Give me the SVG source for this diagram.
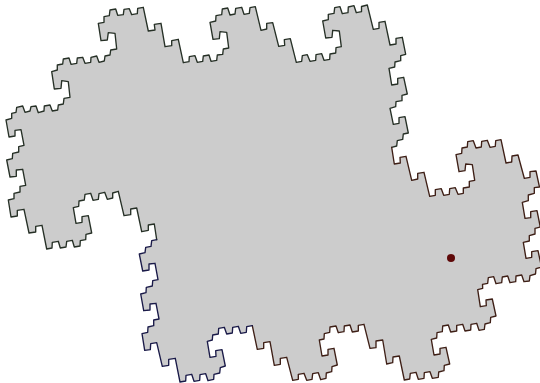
<svg xmlns="http://www.w3.org/2000/svg" width="540" height="383" viewBox="0 0 540 383">
<style>
.line{fill:none;stroke-width:1.35;stroke-linejoin:round;stroke-linecap:round}
</style>
<rect width="540" height="383" fill="#ffffff"/>
<path fill="#cccccc" d="M156.7 239.7L154.3 224 148.3 225 148.3 230.3 141.7 231.7 136.7 208 130.7 209 130.7 214.7 124 215.7 118.3 191.3 112.7 193 112.7 198 107.3 199.3 104.7 192.3 99 193.7 98.3 199.3 93 200.3 90.7 193.3 85 194.3 84.3 200 79 201 78.7 206.3 73.3 207.7 76 223.3 82 222.3 82 216.7 88.3 215.7 91.7 233 86 234.3 85.7 239.7 80.3 240.7 80 246 74.3 247 72.3 240.3 66.7 241.3 66 247 60.3 248 58.3 241.3 52.3 242.3 52 248 46.7 249 42 225.3 35.7 226.3 35.7 232 29 233 24 209.3 17.3 210.3 17.3 216 11 217 8.3 200 14 198.7 14 193.3 20 192 20 186.3 25.7 185.3 22.7 169.3 16.3 170 16.3 176.3 10 177 6.7 160 12.3 158.7 12.7 153.3 18.7 152 18.7 146.7 24 145.3 21 129.7 15 130.3 15 136 9 137 6 120 11.7 118.3 11.7 113.3 16 112.3 16.7 107.3 22.7 106 25 112.3 30 111 31 106.7 36 106 38.3 112.7 44 111 44.3 106 50 105 52.3 111 57.7 110 58.3 105 63.3 104 64 98.3 70 97.3 68.3 81.7 61.7 80.7 61 88.3 54.3 89 51.7 71.7 57.3 70 57.3 65 62.7 64 63.3 59 69 58 71 64.3 76.7 63.3 77.3 58 82.7 57.3 85 63.3 90.7 62.3 91 57.3 96.7 56 99 62.3 104.3 61 105 56 110 55 110.7 50 116.7 49 115 33.3 108.3 32.7 107.3 40 101 40.7 98.3 23.3 104 22.3 104 16.7 109.3 15.7 110 10 115.7 9 117.7 15.3 123.3 14.7 124 9.3 129.3 8.7 131.7 14.7 137.3 13.7 137.7 8.3 143.3 7.3 148.3 31 155 30 154.3 24.3 161 23.3 165 46.7 171.7 45.7 171.7 40.7 178.3 39.3 183.3 62.7 189 61.7 189.3 56.7 195 55.7 197.3 62.3 202.7 61.3 203.3 56 209 55 211 61.3 216.7 60.3 217.3 55 222.7 54.3 223.3 49 228.7 48 226.7 32.3 220 31.7 219.3 38.7 213 39.3 210 22.3 215.7 21 216 15.7 221.7 14.7 222.3 9 227.7 8 230 15 235 14 235.7 8.3 241.7 7.3 244 14.3 249.3 13.3 250 7.7 255.3 6.7 261 30.3 266.7 29 266.7 23.3 272.7 22.7 278.7 46.3 284.7 45.3 284.3 39.7 290.3 38.7 296.3 62.3 301.7 61.3 302.3 55.7 307.3 54.7 310 61.3 315.7 60.3 316 54.7 321.7 53.7 324 60.3 329.7 59.3 330 54 335.7 53 336 47.7 341.3 46.7 339.3 31 332.7 30.3 332 37.3 325.7 38 322.7 21 328.3 19.7 328.3 14.3 334 13.3 334.7 7.7 340 6.7 342.3 13.7 348 12.7 348.3 7 354 5.7 356.3 12.7 361.5 11.7 361.5 6.5 367.3 5 373.3 29.3 379 28.3 379 22.3 385 21.3 390 45 396 44 396 38.3 402.3 37.3 405.7 54.3 400.7 55.7 400.7 60.7 395 62 394.7 67 389 68.3 391.7 85 397.7 84 397.7 78.3 403.7 77.3 407.3 94 402 95.3 402 100.7 396 101.7 395.7 106.7 390 108.3 393.3 124.3 399 123.3 399 117.7 405 116.7 408.3 133 403.3 134 402.7 139.3 397.3 140.7 396.7 146 391.7 147.3 394.3 164 400.3 163 400 157.3 406 156.3 411.7 180.3 417.7 179 417.7 173.3 424 172.3 429.7 196.3 435.3 195.3 435.3 189.7 441.3 188.7 443.7 195.3 449.3 194.3 449.7 188.7 455.3 187.7 458 194.3 463.3 193.3 463.3 188 469.3 187 469.3 181.3 474.7 180.3 472.3 164.7 465.7 164 465 170.7 459 171.7 456 154.7 461.7 153.3 462 148 467.3 147 467.7 141.7 473.3 140.7 476 148 481.3 147 481.7 141.3 487.3 140.3 490 147.3 495.3 146.3 495.7 140.7 501 139.7 506 163 511.7 162 512 156 518 155 524.3 178.3 530 177.3 530 171.7 536 171 539.5 187 534.3 187.7 534.3 193.3 528.3 195 528.3 200.7 522.3 202.3 525 218.3 530.7 217.7 530.7 211.7 537 210.7 540.3 227 535 228.3 535 234 529.3 235.7 529.3 241 523.3 242.3 526 258.3 531.7 257.3 531.7 251.7 538 250.7 541.5 267 536 268.7 535.5 274 530 275.7 529.3 281 524 281.7 521.7 275 516 276 515.7 281.7 510 282.7 507.7 276 502.3 277 501.7 282.7 496 283.7 493.7 276.7 488.3 277.7 487.7 283.3 482.5 284.3 482.7 288.3 477.7 289.7 480.3 306.7 486.3 305.7 486 300 492.3 299 496 316 490.7 317.3 490.3 322.7 485 324 484.3 329.3 479 330.3 476.7 323.3 471 324.3 470.7 330 465 331 462.7 324.3 456.7 325.3 456.7 331 450.7 332 448.3 325 442.7 326 442.3 331.7 437 332.7 436.7 338 431.3 339.3 434 355 440 354 440 348.3 446 347.3 449.7 364 444.3 365.3 444 370.7 438.7 372 438.3 377.3 432.3 378.3 430 371.7 424.3 372.7 424 378.3 418.3 379.3 416 372.3 410.3 373.3 409.7 379 404.3 380 399.3 356 393 357 392.7 362.7 386.7 364 382.7 340 376 341 376 347.7 370 348.3 364 324.3 358.3 325.3 358.3 331 352.3 332 350 325 344.3 326 344 331.7 338.3 332.7 336 326 330 327 329.7 332.3 324.3 333.7 324 339 319.3 340 322 356 328 355 328 349.3 334 348.3 337.3 365 332 366.7 331.7 371.7 326.3 373 326 378.3 320.7 379.7 318.3 372.7 312.7 373.7 312 379.3 306.7 380.3 304 373.3 298.3 374.3 298.3 379.3 292.7 380.3 286.7 357.3 280.3 358.3 280.3 364.3 274.3 365.3 270 341.7 263.7 342.7 263.7 348.3 257.3 349.3 252.3 325.7 246.7 326.7 246.3 332.3 240.7 333.3 238.3 326.3 232.7 327.3 232.3 333 226.7 334 224.3 327.3 218.7 328.3 218.3 334 212.7 335 212.3 340 207.3 341.3 210 357.3 216 356.3 215.7 350.7 222 349.7 225.3 366 220.3 367.7 219.7 373 214 374.3 213.7 379.3 208 380.7 205.7 373.7 200 374.7 199.7 380.3 194 381.3 191.7 374.3 186 375.3 185.7 381 180 382 175.3 358.3 168.7 359.3 168.7 365.3 162.3 366.3 156.7 342.7 150.7 343.7 150.3 349.7 144.7 350.3 142 333.7 147.7 332.3 148 327 153.7 325.7 153.7 320 159 319 156 303.3 150 304 150 310 143.7 310.7 140.7 294 146 292.7 146.3 287.3 152.3 286 152.7 280.7 158 279.7 155 263.3 149 264 149 270 142.7 271 139.3 254 145 252.7 145.7 247.3 151 246.3 151.7 240.7Z"/>
<path class="line" stroke="#263026" d="M156.7 239.7L154.3 224 148.3 225 148.3 230.3 141.7 231.7 136.7 208 130.7 209 130.7 214.7 124 215.7 118.3 191.3 112.7 193 112.7 198 107.3 199.3 104.7 192.3 99 193.7 98.3 199.3 93 200.3 90.7 193.3 85 194.3 84.3 200 79 201 78.7 206.3 73.3 207.7 76 223.3 82 222.3 82 216.7 88.3 215.7 91.7 233 86 234.3 85.7 239.7 80.3 240.7 80 246 74.3 247 72.3 240.3 66.7 241.3 66 247 60.3 248 58.3 241.3 52.3 242.3 52 248 46.7 249 42 225.3 35.7 226.3 35.7 232 29 233 24 209.3 17.3 210.3 17.3 216 11 217 8.3 200 14 198.7 14 193.3 20 192 20 186.3 25.7 185.3 22.7 169.3 16.3 170 16.3 176.3 10 177 6.7 160 12.3 158.7 12.7 153.3 18.7 152 18.7 146.7 24 145.3 21 129.7 15 130.3 15 136 9 137 6 120 11.7 118.3 11.7 113.3 16 112.3 16.7 107.3 22.7 106 25 112.3 30 111 31 106.7 36 106 38.3 112.7 44 111 44.3 106 50 105 52.3 111 57.7 110 58.3 105 63.3 104 64 98.3 70 97.3 68.3 81.7 61.7 80.7 61 88.3 54.3 89 51.7 71.7 57.3 70 57.3 65 62.7 64 63.3 59 69 58 71 64.3 76.7 63.3 77.3 58 82.7 57.3 85 63.3 90.7 62.3 91 57.3 96.7 56 99 62.3 104.3 61 105 56 110 55 110.7 50 116.7 49 115 33.3 108.3 32.7 107.3 40 101 40.7 98.3 23.3 104 22.3 104 16.7 109.3 15.7 110 10 115.7 9 117.7 15.3 123.3 14.7 124 9.3 129.3 8.7 131.7 14.7 137.3 13.7 137.7 8.3 143.3 7.3 148.3 31 155 30 154.3 24.3 161 23.3 165 46.7 171.7 45.7 171.7 40.7 178.3 39.3 183.3 62.7 189 61.7 189.3 56.7 195 55.7 197.3 62.3 202.7 61.3 203.3 56 209 55 211 61.3 216.7 60.3 217.3 55 222.7 54.3 223.3 49 228.7 48 226.7 32.3 220 31.7 219.3 38.7 213 39.3 210 22.3 215.7 21 216 15.7 221.7 14.7 222.3 9 227.7 8 230 15 235 14 235.7 8.3 241.7 7.3 244 14.3 249.3 13.3 250 7.7 255.3 6.7 261 30.3 266.7 29 266.7 23.3 272.7 22.7 278.7 46.3 284.7 45.3 284.3 39.7 290.3 38.7 296.3 62.3 301.7 61.3 302.3 55.7 307.3 54.7 310 61.3 315.7 60.3 316 54.7 321.7 53.7 324 60.3 329.7 59.3 330 54 335.7 53 336 47.7 341.3 46.7 339.3 31 332.7 30.3 332 37.3 325.7 38 322.7 21 328.3 19.7 328.3 14.3 334 13.3 334.7 7.7 340 6.7 342.3 13.7 348 12.7 348.3 7 354 5.7 356.3 12.7 361.5 11.7 361.5 6.5 367.3 5 373.3 29.3 379 28.3 379 22.3 385 21.3 390 45 396 44 396 38.3 402.3 37.3 405.7 54.3 400.7 55.7 400.7 60.7 395 62 394.7 67 389 68.3 391.7 85 397.7 84 397.7 78.3 403.7 77.3 407.3 94 402 95.3 402 100.7 396 101.7 395.7 106.7 390 108.3 393.3 124.3 399 123.3 399 117.7 405 116.7 408.3 133 403.3 134 402.7 139.3 397.3 140.7 396.7 146 391.7 147.3"/>
<path class="line" stroke="#3e1f16" d="M391.7 147.3L394.3 164 400.3 163 400 157.3 406 156.3 411.7 180.3 417.7 179 417.7 173.3 424 172.3 429.7 196.3 435.3 195.3 435.3 189.7 441.3 188.7 443.7 195.3 449.3 194.3 449.7 188.7 455.3 187.7 458 194.3 463.3 193.3 463.3 188 469.3 187 469.3 181.3 474.7 180.3 472.3 164.7 465.7 164 465 170.7 459 171.7 456 154.7 461.7 153.3 462 148 467.3 147 467.7 141.7 473.3 140.7 476 148 481.3 147 481.7 141.3 487.3 140.3 490 147.3 495.3 146.3 495.7 140.7 501 139.7 506 163 511.7 162 512 156 518 155 524.3 178.3 530 177.3 530 171.7 536 171 539.5 187 534.3 187.7 534.3 193.3 528.3 195 528.3 200.7 522.3 202.3 525 218.3 530.7 217.7 530.7 211.7 537 210.7 540.3 227 535 228.3 535 234 529.3 235.7 529.3 241 523.3 242.3 526 258.3 531.7 257.3 531.7 251.7 538 250.7 541.5 267 536 268.7 535.5 274 530 275.7 529.3 281 524 281.7 521.7 275 516 276 515.7 281.7 510 282.7 507.7 276 502.3 277 501.7 282.7 496 283.7 493.7 276.7 488.3 277.7 487.7 283.3 482.5 284.3 482.7 288.3 477.7 289.7 480.3 306.7 486.3 305.7 486 300 492.3 299 496 316 490.7 317.3 490.3 322.7 485 324 484.3 329.3 479 330.3 476.7 323.3 471 324.3 470.7 330 465 331 462.7 324.3 456.7 325.3 456.7 331 450.7 332 448.3 325 442.7 326 442.3 331.7 437 332.7 436.7 338 431.3 339.3 434 355 440 354 440 348.3 446 347.3 449.7 364 444.3 365.3 444 370.7 438.7 372 438.3 377.3 432.3 378.3 430 371.7 424.3 372.7 424 378.3 418.3 379.3 416 372.3 410.3 373.3 409.7 379 404.3 380 399.3 356 393 357 392.7 362.7 386.7 364 382.7 340 376 341 376 347.7 370 348.3 364 324.3 358.3 325.3 358.3 331 352.3 332 350 325 344.3 326 344 331.7 338.3 332.7 336 326 330 327 329.7 332.3 324.3 333.7 324 339 319.3 340 322 356 328 355 328 349.3 334 348.3 337.3 365 332 366.7 331.7 371.7 326.3 373 326 378.3 320.7 379.7 318.3 372.7 312.7 373.7 312 379.3 306.7 380.3 304 373.3 298.3 374.3 298.3 379.3 292.7 380.3 286.7 357.3 280.3 358.3 280.3 364.3 274.3 365.3 270 341.7 263.7 342.7 263.7 348.3 257.3 349.3 252.3 325.7"/>
<path class="line" stroke="#1a1a48" d="M252.3 325.7L246.7 326.7 246.3 332.3 240.7 333.3 238.3 326.3 232.7 327.3 232.3 333 226.7 334 224.3 327.3 218.7 328.3 218.3 334 212.7 335 212.3 340 207.3 341.3 210 357.3 216 356.3 215.7 350.7 222 349.7 225.3 366 220.3 367.7 219.7 373 214 374.3 213.7 379.3 208 380.7 205.7 373.7 200 374.7 199.7 380.3 194 381.3 191.7 374.3 186 375.3 185.7 381 180 382 175.3 358.3 168.7 359.3 168.7 365.3 162.3 366.3 156.7 342.7 150.7 343.7 150.3 349.7 144.7 350.3 142 333.7 147.7 332.3 148 327 153.7 325.7 153.7 320 159 319 156 303.3 150 304 150 310 143.7 310.7 140.7 294 146 292.7 146.3 287.3 152.3 286 152.7 280.7 158 279.7 155 263.3 149 264 149 270 142.7 271 139.3 254 145 252.7 145.7 247.3 151 246.3 151.7 240.7 156.7 239.7"/>
<circle cx="451" cy="258" r="4" fill="#5e0808"/>
</svg>
